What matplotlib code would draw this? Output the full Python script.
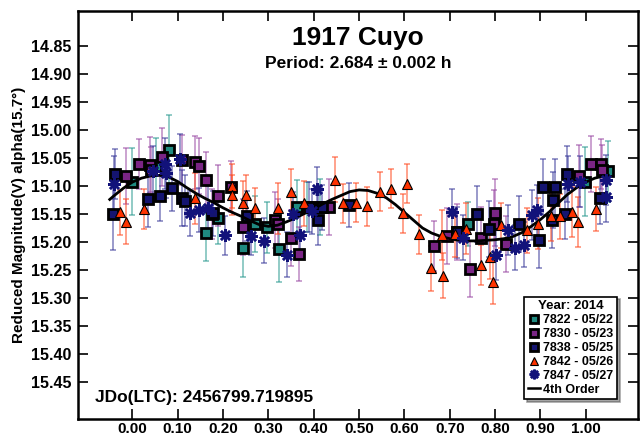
import numpy as np
import matplotlib
matplotlib.use("Agg")
import matplotlib.pyplot as plt
from matplotlib.lines import Line2D

plt.rcParams['font.family'] = ['Liberation Sans', 'DejaVu Sans']
plt.rcParams['font.weight'] = 'bold'

# -------------------------
# Datos
# -------------------------

# 7822 - 05/22 (cuadrados verde azulado)
ph_7822 = [0.000, 0.052, 0.080, 0.163, 0.188, 0.244, 0.271, 0.297, 0.323, 0.363, 0.385, 0.413, 0.741, 0.998, 1.049]
mag_7822 = [15.092, 15.064, 15.035, 15.184, 15.158, 15.211, 15.167, 15.174, 15.212, 15.138, 15.137, 15.137, 15.168, 15.092, 15.074]
err_7822 = [0.060, 0.050, 0.061, 0.050, 0.045, 0.052, 0.050, 0.045, 0.060, 0.048, 0.045, 0.050, 0.040, 0.062, 0.055]

# 7830 - 05/23 (cuadrados morados)
ph_7830 = [-0.014, 0.015, 0.038, 0.041, 0.065, 0.109, 0.137, 0.146, 0.163, 0.176, 0.188, 0.218, 0.244, 0.314,
           0.321, 0.349, 0.367, 0.433, 0.666, 0.693, 0.715, 0.744, 0.770, 0.798, 0.800, 0.824, 0.985, 1.011,
           1.033, 1.035]
mag_7830 = [15.083, 15.061, 15.062, 15.071, 15.048, 15.054, 15.058, 15.064, 15.089, 15.150, 15.117, 15.101, 15.174,
            15.161, 15.168, 15.192, 15.222, 15.137, 15.207, 15.189, 15.183, 15.248, 15.192, 15.168, 15.148, 15.204,
            15.082, 15.061, 15.061, 15.071]
err_7830 = [0.050, 0.045, 0.050, 0.040, 0.052, 0.045, 0.048, 0.050, 0.050, 0.045, 0.055, 0.045, 0.050, 0.050,
            0.045, 0.050, 0.048, 0.050, 0.045, 0.050, 0.050, 0.050, 0.055, 0.060, 0.060, 0.050, 0.055, 0.050,
            0.045, 0.045]

# 7838 - 05/25 (cuadrados azul marino)
ph_7838 = [-0.043, -0.038, 0.034, 0.060, 0.088, 0.110, 0.115, 0.177, 0.252, 0.389, 0.409, 0.418, 0.478, 0.716,
           0.761, 0.787, 0.853, 0.897, 0.906, 0.925, 0.928, 0.932, 0.954, 0.959, 1.032]
mag_7838 = [15.150, 15.079, 15.124, 15.117, 15.104, 15.122, 15.126, 15.149, 15.154, 15.137, 15.161, 15.138, 15.134,
            15.183, 15.150, 15.177, 15.168, 15.196, 15.101, 15.161, 15.125, 15.102, 15.150, 15.079, 15.122]
err_7838 = [0.065, 0.045, 0.050, 0.045, 0.040, 0.050, 0.045, 0.040, 0.045, 0.045, 0.045, 0.040, 0.040, 0.045,
            0.050, 0.050, 0.050, 0.050, 0.050, 0.050, 0.050, 0.050, 0.045, 0.050, 0.045]

# 7842 - 05/26 (triangulos rojos)
ph_7842 = [-0.027, -0.015, 0.025, 0.138, 0.220, 0.220, 0.245, 0.250, 0.271, 0.322, 0.350, 0.378, 0.446, 0.465,
           0.493, 0.518, 0.546, 0.571, 0.596, 0.606, 0.632, 0.658, 0.684, 0.686, 0.711, 0.736, 0.769, 0.789,
           0.795, 0.814, 0.871, 0.895, 0.923, 0.943, 0.970, 0.982, 1.023]
mag_7842 = [15.147, 15.164, 15.141, 15.122, 15.100, 15.116, 15.131, 15.116, 15.139, 15.140, 15.110, 15.131, 15.089,
            15.131, 15.130, 15.136, 15.110, 15.105, 15.149, 15.096, 15.186, 15.247, 15.188, 15.260, 15.186, 15.176,
            15.241, 15.226, 15.271, 15.170, 15.179, 15.167, 15.154, 15.154, 15.146, 15.164, 15.141]
err_7842 = [0.040, 0.040, 0.035, 0.045, 0.040, 0.035, 0.040, 0.035, 0.035, 0.045, 0.040, 0.040, 0.040, 0.035,
            0.035, 0.035, 0.035, 0.035, 0.035, 0.035, 0.035, 0.040, 0.045, 0.040, 0.040, 0.045, 0.035, 0.040,
            0.040, 0.040, 0.040, 0.045, 0.045, 0.040, 0.045, 0.045, 0.040]

# 7847 - 05/27 (asteriscos azules)
ph_7847 = [-0.040, 0.045, 0.071, 0.074, 0.104, 0.126, 0.148, 0.166, 0.205, 0.262, 0.290, 0.342, 0.354, 0.369,
           0.397, 0.407, 0.705, 0.730, 0.802, 0.829, 0.844, 0.864, 0.881, 0.893, 0.962, 0.987, 1.045, 1.045]
mag_7847 = [15.096, 15.074, 15.060, 15.077, 15.052, 15.149, 15.143, 15.140, 15.188, 15.189, 15.198, 15.223, 15.150,
            15.188, 15.145, 15.106, 15.146, 15.192, 15.223, 15.179, 15.210, 15.205, 15.152, 15.143, 15.096, 15.092,
            15.089, 15.119]
err_7847 = [0.050, 0.045, 0.045, 0.045, 0.045, 0.040, 0.040, 0.040, 0.035, 0.035, 0.040, 0.040, 0.040, 0.040,
            0.040, 0.040, 0.040, 0.040, 0.045, 0.045, 0.040, 0.040, 0.045, 0.045, 0.050, 0.045, 0.045, 0.045]

# Curva de ajuste de 4o orden
fit_phase = [-0.05, -0.04, -0.02, 0.00, 0.02, 0.04, 0.06, 0.08, 0.10, 0.12, 0.14, 0.16, 0.18, 0.20, 0.22, 0.24,
             0.26, 0.28, 0.30, 0.32, 0.34, 0.36, 0.38, 0.40, 0.42, 0.44, 0.46, 0.48, 0.50, 0.52, 0.54, 0.56,
             0.58, 0.60, 0.62, 0.64, 0.66, 0.68, 0.70, 0.72, 0.74, 0.76, 0.78, 0.80, 0.82, 0.84, 0.86, 0.88,
             0.90, 0.92, 0.94, 0.96, 0.98, 1.00, 1.02, 1.04, 1.05]
fit_mag = [15.124, 15.117, 15.104, 15.093, 15.086, 15.082, 15.081, 15.084, 15.092, 15.103, 15.113, 15.122, 15.130,
           15.139, 15.147, 15.154, 15.162, 15.169, 15.172, 15.170, 15.164, 15.157, 15.149, 15.141, 15.132, 15.124,
           15.117, 15.110, 15.107, 15.108, 15.113, 15.121, 15.133, 15.147, 15.161, 15.175, 15.184, 15.190, 15.194,
           15.197, 15.198, 15.198, 15.197, 15.196, 15.194, 15.190, 15.183, 15.172, 15.160, 15.146, 15.130, 15.115,
           15.103, 15.093, 15.086, 15.082, 15.081]

x_ticks = [0.00, 0.10, 0.20, 0.30, 0.40, 0.50, 0.60, 0.70, 0.80, 0.90, 1.00]
y_ticks = [14.85, 14.90, 14.95, 15.00, 15.05, 15.10, 15.15, 15.20, 15.25, 15.30, 15.35, 15.40, 15.45]

# -------------------------
# Figura
# -------------------------

fig = plt.figure(figsize=(6.42, 4.36), dpi=100)
ax = fig.add_axes([0.1215, 0.039, 0.872, 0.9358])

series = [
    (ph_7822, mag_7822, err_7822, "7822 - 05/22", "s", "#1f8a80", "#2a9a90"),
    (ph_7830, mag_7830, err_7830, "7830 - 05/23", "s", "#7a2585", "#9a4aa5"),
    (ph_7838, mag_7838, err_7838, "7838 - 05/25", "s", "#141470", "#3a3a9a"),
    (ph_7842, mag_7842, err_7842, "7842 - 05/26", "^", "#ff3300", "#ff4a20"),
    (ph_7847, mag_7847, err_7847, "7847 - 05/27", (8, 2, 0), "#12127a", "#3a3a9a"),
]

handles = []
for i, (ph, mag, err, label, marker, fc, ec_bar) in enumerate(series):
    ax.errorbar(ph, mag, yerr=err, fmt="none", ecolor=ec_bar, elinewidth=1.1,
                capsize=2.5, capthick=1.1, alpha=0.65, zorder=2)
    if marker == "s":
        kw = dict(marker="s", markersize=7.5, markerfacecolor=fc, markeredgecolor="black", markeredgewidth=2.0)
    elif marker == "^":
        kw = dict(marker="^", markersize=7.5, markerfacecolor=fc, markeredgecolor="black", markeredgewidth=0.8)
    else:
        kw = dict(marker=marker, markersize=9, markerfacecolor=fc, markeredgecolor=fc, markeredgewidth=1.8)
    ax.plot(ph, mag, linestyle="none", zorder=3 + i * 0.1, **kw)
    handles.append(Line2D([], [], linestyle="none", label=label, **{**kw, "markersize": kw["markersize"] - 2}))

ax.plot(fit_phase, fit_mag, color="black", linewidth=2.0, zorder=3.25)
handles.append(Line2D([], [], color="black", linewidth=1.8, label="4th Order"))

ax.set_xlim(-0.12, 1.115)
ax.set_ylim(15.516, 14.7875)
ax.set_xticks(x_ticks)
ax.set_yticks(y_ticks)
ax.set_xticklabels([f"{v:.2f}" for v in x_ticks], fontsize=11, fontweight="bold")
ax.set_yticklabels([f"{v:.2f}" for v in y_ticks], fontsize=11.5, fontweight="bold")
ax.tick_params(direction="in", length=7, width=1.2, top=True, right=True)
ax.tick_params(axis="x", pad=2)
ax.tick_params(axis="y", pad=5)
for sp in ax.spines.values():
    sp.set_linewidth(1.8)

ax.set_ylabel("Reduced Magnitude(V) alpha(15.7°)", fontsize=11, fontweight="bold", labelpad=3)

ax.text(0.5, 0.935, "1917 Cuyo", transform=ax.transAxes, ha="center", va="center",
        fontsize=19, fontweight="bold")
ax.text(0.5, 0.872, "Period: 2.684 ± 0.002 h", transform=ax.transAxes, ha="center", va="center",
        fontsize=12.5, fontweight="bold")
ax.text(0.03, 0.053, "JDo(LTC): 2456799.719895", transform=ax.transAxes, ha="left", va="center",
        fontsize=12.5, fontweight="bold")

leg = ax.legend(handles=handles, loc="lower right", bbox_to_anchor=(0.9625, 0.048),
                title="Year: 2014", fontsize=9, title_fontproperties={"weight": "bold", "size": 9.5},
                frameon=True, fancybox=False, shadow=True, labelspacing=0.15, handlelength=1.0,
                handletextpad=0.2, borderpad=0.3, borderaxespad=0.0)
leg.get_frame().set_edgecolor("black")
leg.get_frame().set_linewidth(1.2)
for t in leg.get_texts():
    t.set_fontweight("bold")
leg.set_zorder(10)

fig.savefig("out.png", dpi=100)
